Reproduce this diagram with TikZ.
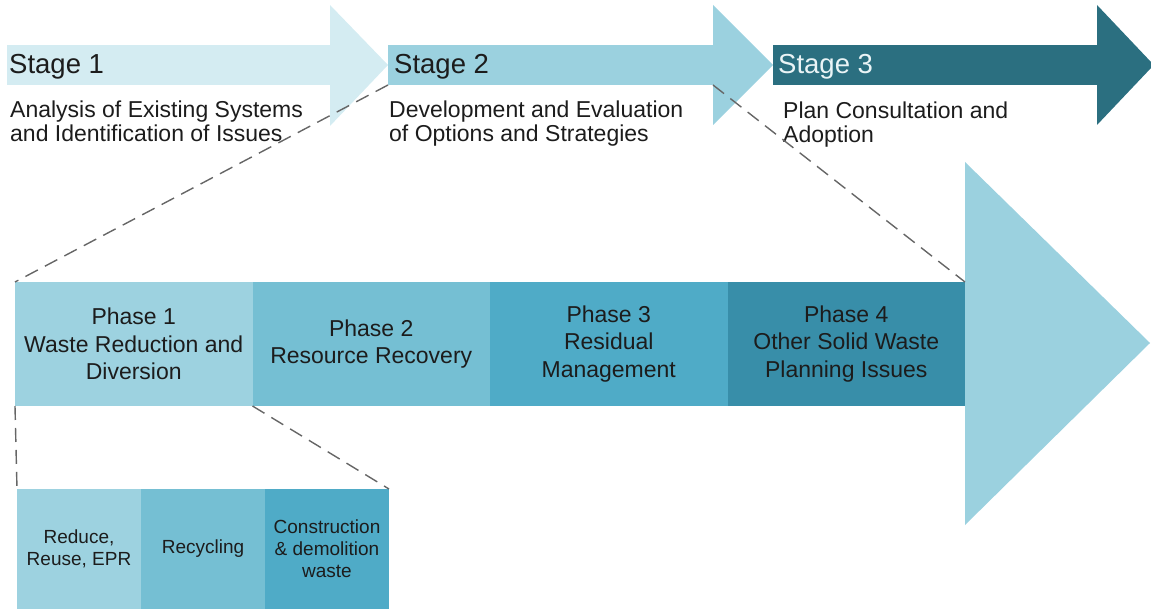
\documentclass[tikz,border=0pt]{standalone}
\usepackage{fontspec}
\setmainfont{Liberation Sans}
\definecolor{sone}{HTML}{D4ECF2}
\definecolor{stwo}{HTML}{9BD1DF}
\definecolor{sthree}{HTML}{2B6F80}
\definecolor{pone}{HTML}{9DD2E0}
\definecolor{ptwo}{HTML}{75BFD3}
\definecolor{pthree}{HTML}{4FABC7}
\definecolor{pfour}{HTML}{388EA9}
\definecolor{txt}{HTML}{1C1C1C}
\definecolor{lighttxt}{HTML}{EAF4F6}
\definecolor{dashc}{HTML}{666666}
\begin{document}
\begin{tikzpicture}[x=1pt,y=-1pt,
  bodybox/.style={draw=none, inner sep=0pt, outer sep=0pt, minimum height=40pt, anchor=north west},
  phasebox/.style={draw=none, inner sep=0pt, outer sep=0pt, minimum height=124pt, minimum width=237.5pt,
    align=center, anchor=north west, text=txt, font=\fontsize{23}{27.5}\selectfont},
  subbox/.style={draw=none, inner sep=0pt, outer sep=0pt, minimum height=120pt, minimum width=124pt,
    align=center, anchor=north west, text=txt, font=\fontsize{19}{22}\selectfont},
  stagetitle/.style={anchor=base west, inner sep=0pt, font=\fontsize{27.5}{29}\selectfont, text=txt},
  stagedesc/.style={anchor=base west, inner sep=0pt, align=left, font=\fontsize{23}{24.5}\selectfont, text=txt},
  zoomline/.style={draw=dashc, line width=1.4pt, dash pattern=on 14pt off 8pt}]
\useasboundingbox (0,0) rectangle (1151,609);
% Stage arrows
\node[bodybox, fill=sone, minimum width=323pt] (s1b) at (7,45) {};
\fill[sone] (330,5) -- (388,65) -- (330,126) -- cycle;
\node[bodybox, fill=stwo, minimum width=325pt] (s2b) at (388,45) {};
\fill[stwo] (713,5) -- (773,65) -- (713,125) -- cycle;
\node[bodybox, fill=sthree, minimum width=325pt] (s3b) at (773,45) {};
\fill[sthree] (1097,5) -- (1151,62) -- (1151,68) -- (1097,125) -- cycle;
% Stage texts
\node[stagetitle] (t1) at (9,74) {Stage 1};
\node[stagetitle] (t2) at (394,74) {Stage 2};
\node[stagetitle, text=lighttxt] (t3) at (778,74) {Stage 3};
\node[stagedesc] (d1) at (10,142) {Analysis of Existing Systems\\and Identification of Issues};
\node[stagedesc] (d2) at (389,142) {Development and Evaluation\\of Options and Strategies};
\node[stagedesc] (d3) at (783,143) {Plan Consultation and\\Adoption};
% Phase arrow
\node[phasebox, fill=pone] (p1) at (15,282) {Phase 1\\Waste Reduction and\\Diversion};
\node[phasebox, fill=ptwo] (p2) at (252.5,282) {Phase 2\\Resource Recovery};
\node[phasebox, fill=pthree] (p3) at (490,282) {Phase 3\\Residual\\Management};
\node[phasebox, fill=pfour] (p4) at (727.5,282) {Phase 4\\Other Solid Waste\\Planning Issues};
\fill[stwo] (p4.north east |- 0,162) -- (1150,343) -- (p4.north east |- 0,525) -- cycle;
% Sub boxes
\node[subbox, fill=pone] (r1) at (17,489) {Reduce,\\Reuse, EPR};
\node[subbox, fill=ptwo] (r2) at (141,489) {Recycling};
\node[subbox, fill=pthree] (r3) at (265,489) {Construction\\\& demolition\\waste};
% Zoom lines
\draw[zoomline] (s2b.south west) -- (p1.north west);
\draw[zoomline] (s2b.south east) -- (p4.north east);
\draw[zoomline] (p1.south west) -- (r1.north west);
\draw[zoomline] (p1.south east) -- (r3.north east);
\end{tikzpicture}
\end{document}
